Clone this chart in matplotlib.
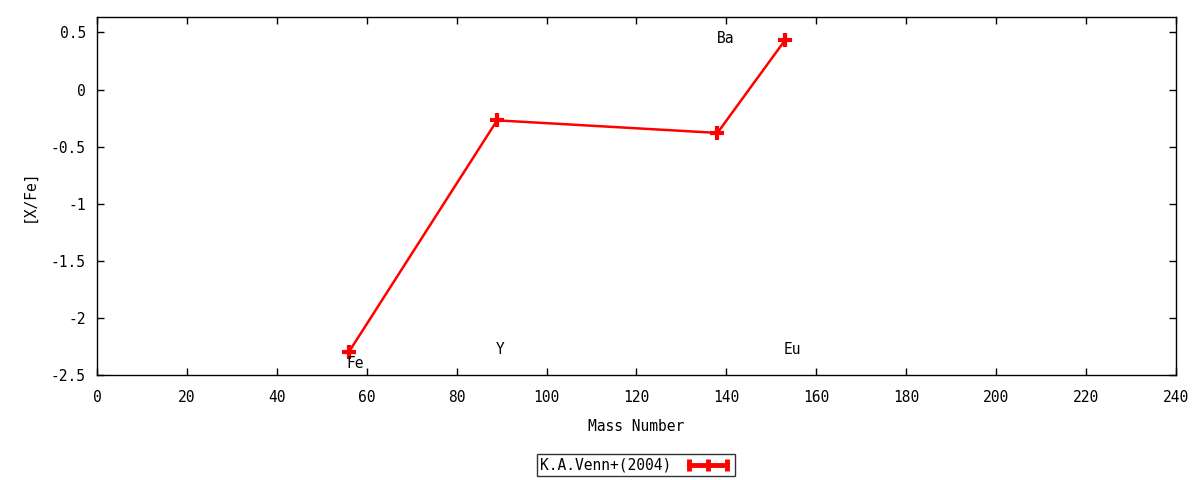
import matplotlib
matplotlib.use("Agg")
import matplotlib.pyplot as plt
from matplotlib.lines import Line2D

plt.rcParams["font.family"] = ["DejaVu Sans Mono"]
plt.rcParams["font.size"] = 10.5

# K.A.Venn+(2004) abundances
mass = [56, 89, 138, 153]
xfe = [-2.30, -0.27, -0.38, 0.43]

# element labels (left-aligned at their anchor)
elements = ["Fe", "Y", "Ba", "Eu"]
label_x = [55.5, 88.7, 137.8, 152.8]
label_y = [-2.40, -2.28, 0.45, -2.28]

series_name = "K.A.Venn+(2004)"

fig = plt.figure(figsize=(12, 4.8), dpi=100)
ax = fig.add_axes([0.0808, 0.2187, 0.8992, 0.7459])

ax.plot(mass, xfe, color="red", lw=1.8, marker="+", ms=10, mew=3)

for el, lx, ly in zip(elements, label_x, label_y):
    ax.text(lx, ly, el, ha="left", va="center")

ax.set_xlim(0, 240)
ax.set_ylim(-2.5, 0.635)
ax.set_xticks(range(0, 241, 20))
ax.set_yticks([-2.5, -2, -1.5, -1, -0.5, 0, 0.5])
ax.set_yticklabels(["-2.5", "-2", "-1.5", "-1", "-0.5", "0", "0.5"])
ax.tick_params(direction="in", length=5, width=1, top=True, right=True)
ax.tick_params(axis="x", pad=11)
ax.tick_params(axis="y", pad=8)
for sp in ax.spines.values():
    sp.set_linewidth(1)

ax.set_xlabel("Mass Number", labelpad=10)
ax.set_ylabel("[X/Fe]", labelpad=10)

handle = Line2D([], [], color="red", lw=3.5, marker="|", ms=9, mew=3.5)
leg = fig.legend([handle], [series_name], loc="center", numpoints=3,
                 bbox_to_anchor=(0.53, 0.031), frameon=True, fancybox=False,
                 edgecolor="black", markerfirst=False, handlelength=3.2,
                 borderpad=0.25, handletextpad=0.9, borderaxespad=0)
leg.get_frame().set_linewidth(1)

fig.savefig("out.png", dpi=100)
